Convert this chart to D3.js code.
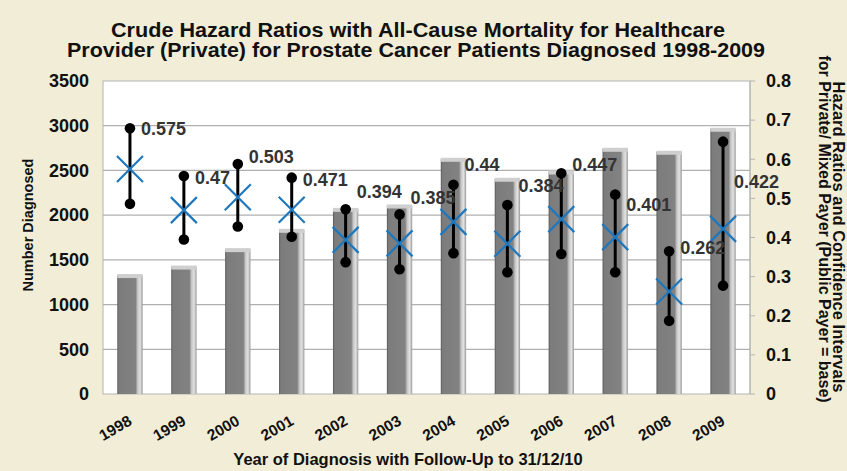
<!DOCTYPE html>
<html>
<head>
<meta charset="utf-8">
<script src="https://cdn.jsdelivr.net/npm/d3@7"></script>
<style>
  body { margin: 0; background: #f2edd6; }
  svg { display: block; }
</style>
</head>
<body>
<div id="chart"></div>
<script>
// -----------------------------------------
// DATA
// -----------------------------------------
var years = ["1998", "1999", "2000", "2001", "2002", "2003", "2004", "2005", "2006", "2007", "2008", "2009"];
var diagnosed = [1330, 1425, 1620, 1836, 2070, 2108, 2630, 2407, 2488, 2742, 2709, 2966];
var hazard = [0.575, 0.47, 0.503, 0.471, 0.394, 0.385, 0.44, 0.384, 0.447, 0.401, 0.262, 0.422];
var ciLow = [0.486, 0.395, 0.428, 0.402, 0.337, 0.319, 0.36, 0.311, 0.358, 0.311, 0.187, 0.277];
var ciHigh = [0.679, 0.557, 0.588, 0.553, 0.472, 0.459, 0.535, 0.483, 0.564, 0.51, 0.365, 0.645];
// where each value label sits, read on the right axis
var labelAt = [0.677, 0.552, 0.606, 0.547, 0.516, 0.501, 0.585, 0.532, 0.585, 0.483, 0.373, 0.542];
var leftTicks = [0, 500, 1000, 1500, 2000, 2500, 3000, 3500];
var rightTicks = [0, 0.1, 0.2, 0.3, 0.4, 0.5, 0.6, 0.7, 0.8];

// -----------------------------------------
// FORMAT
// -----------------------------------------
var W = 847, H = 471;
var pL = 103, pR = 750, pT = 81, pB = 394; // plot area edges
var fontF = "Arial, 'Liberation Sans', sans-serif";
var blue = "#1f78bd";

var svg = d3.select("#chart").append("svg")
  .attr("width", W)
  .attr("height", H);

svg.append("rect").attr("width", W).attr("height", H).attr("fill", "#f2edd6");

var x = d3.scaleBand().domain(years).range([pL, pR]);
var yL = d3.scaleLinear().domain([0, 3500]).range([pB, pT]);
var yR = d3.scaleLinear().domain([0, 0.8]).range([pB, pT]);
var cx = function(i){ return x(years[i]) + x.bandwidth()/2; };

// bar gradient (3D look)
var defs = svg.append("defs");
var g = defs.append("linearGradient").attr("id", "barg").attr("x1", "0%").attr("x2", "100%");
g.append("stop").attr("offset", "0%").attr("stop-color", "#5a5a5a");
g.append("stop").attr("offset", "7%").attr("stop-color", "#7c7c7c");
g.append("stop").attr("offset", "72%").attr("stop-color", "#828282");
g.append("stop").attr("offset", "80%").attr("stop-color", "#c4c4c4");
g.append("stop").attr("offset", "90%").attr("stop-color", "#e2e2e2");
g.append("stop").attr("offset", "100%").attr("stop-color", "#9a9a9a");

// plot area
svg.append("rect")
  .attr("x", pL).attr("y", pT)
  .attr("width", pR - pL).attr("height", pB - pT)
  .attr("fill", "#ffffff")
  .attr("stroke", "#b4b4b4");

// gridlines
svg.selectAll(".grid")
  .data(leftTicks.slice(1, -1))
  .enter().append("line")
  .attr("x1", pL).attr("x2", pR)
  .attr("y1", function(d){ return yL(d); })
  .attr("y2", function(d){ return yL(d); })
  .style("stroke", "#b0b0b0")
  .style("stroke-width", 1.2);

// bars
var bw = x.bandwidth() * 0.47;
svg.selectAll(".bar")
  .data(diagnosed)
  .enter().append("rect")
  .attr("x", function(d, i){ return cx(i) - bw/2; })
  .attr("y", function(d){ return yL(d); })
  .attr("width", bw)
  .attr("height", function(d){ return pB - yL(d); })
  .attr("fill", "url(#barg)");
svg.selectAll(".bartop")
  .data(diagnosed)
  .enter().append("rect")
  .attr("x", function(d, i){ return cx(i) - bw/2; })
  .attr("y", function(d){ return yL(d) - 1; })
  .attr("width", bw)
  .attr("height", 4)
  .attr("fill", "#cfcfcf");

// right axis
svg.append("line")
  .attr("x1", pR).attr("x2", pR)
  .attr("y1", pT).attr("y2", pB)
  .style("stroke", "#b4b4b4");
svg.selectAll(".rtick")
  .data(rightTicks)
  .enter().append("line")
  .attr("x1", pR).attr("x2", pR + 5)
  .attr("y1", function(d){ return yR(d); })
  .attr("y2", function(d){ return yR(d); })
  .style("stroke", "#b4b4b4");

// confidence intervals
svg.selectAll(".ci")
  .data(hazard)
  .enter().append("line")
  .attr("x1", function(d, i){ return cx(i); })
  .attr("x2", function(d, i){ return cx(i); })
  .attr("y1", function(d, i){ return yR(ciLow[i]); })
  .attr("y2", function(d, i){ return yR(ciHigh[i]); })
  .style("stroke", "#000")
  .style("stroke-width", 3);
svg.selectAll(".ciend")
  .data(ciLow.concat(ciHigh))
  .enter().append("circle")
  .attr("cx", function(d, i){ return cx(i % years.length); })
  .attr("cy", function(d){ return yR(d); })
  .attr("r", 5.3)
  .style("fill", "#000");

// hazard ratio crosses
var hs = 13;
svg.selectAll(".hr")
  .data(hazard)
  .enter().append("path")
  .attr("d", function(d, i){
    var px = cx(i), py = yR(d);
    return "M" + (px - hs) + "," + (py - hs) + "L" + (px + hs) + "," + (py + hs) +
           "M" + (px - hs) + "," + (py + hs) + "L" + (px + hs) + "," + (py - hs);
  })
  .style("stroke", blue)
  .style("stroke-width", 2.2)
  .style("fill", "none");

// value labels
svg.selectAll(".lab")
  .data(hazard)
  .enter().append("text")
  .attr("x", function(d, i){ return cx(i) + 11; })
  .attr("y", function(d, i){ return yR(labelAt[i]); })
  .attr("dy", "0.35em")
  .text(function(d){ return d; })
  .style("font-family", fontF)
  .style("font-weight", "bold")
  .style("font-size", "18px")
  .style("fill", "#333");

// left tick labels
svg.selectAll(".ltl")
  .data(leftTicks)
  .enter().append("text")
  .attr("x", 89)
  .attr("y", function(d){ return yL(d); })
  .attr("dy", "0.35em")
  .attr("text-anchor", "end")
  .text(function(d){ return d; })
  .style("font-family", fontF)
  .style("font-weight", "bold")
  .style("font-size", "18px")
  .style("fill", "#111");

// right tick labels
svg.selectAll(".rtl")
  .data(rightTicks)
  .enter().append("text")
  .attr("x", 766)
  .attr("y", function(d){ return yR(d); })
  .attr("dy", "0.35em")
  .text(function(d){ return d; })
  .style("font-family", fontF)
  .style("font-weight", "bold")
  .style("font-size", "18px")
  .style("fill", "#111");

// year labels
svg.selectAll(".yl")
  .data(years)
  .enter().append("text")
  .attr("transform", function(d, i){ return "translate(" + (cx(i) + 3) + ",424) rotate(-30)"; })
  .attr("text-anchor", "end")
  .text(function(d){ return d; })
  .style("font-family", fontF)
  .style("font-weight", "bold")
  .style("font-size", "15.5px")
  .style("fill", "#111");

// -----------------------------------------
// TITLES
// -----------------------------------------
svg.append("text")
  .attr("x", 418).attr("y", 37)
  .attr("text-anchor", "middle")
  .attr("textLength", 614).attr("lengthAdjust", "spacingAndGlyphs")
  .text("Crude Hazard Ratios with All-Cause Mortality for Healthcare")
  .style("font-family", fontF).style("font-weight", "bold").style("font-size", "20px").style("fill", "#111");
svg.append("text")
  .attr("x", 416).attr("y", 56.5)
  .attr("text-anchor", "middle")
  .attr("textLength", 698).attr("lengthAdjust", "spacingAndGlyphs")
  .text("Provider (Private) for Prostate Cancer Patients Diagnosed 1998-2009")
  .style("font-family", fontF).style("font-weight", "bold").style("font-size", "20px").style("fill", "#111");

svg.append("text")
  .attr("x", 408).attr("y", 465)
  .attr("text-anchor", "middle")
  .text("Year of Diagnosis with Follow-Up to 31/12/10")
  .style("font-family", fontF).style("font-weight", "bold").style("font-size", "16.5px").style("fill", "#111");

svg.append("text")
  .attr("transform", "translate(33,225) rotate(-90)")
  .attr("text-anchor", "middle")
  .text("Number Diagnosed")
  .style("font-family", fontF).style("font-weight", "bold").style("font-size", "14.5px").style("fill", "#111");

svg.append("text")
  .attr("transform", "translate(833,237) rotate(90)")
  .attr("text-anchor", "middle")
  .text("Hazard Ratios and Confidence Intervals")
  .style("font-family", fontF).style("font-weight", "bold").style("font-size", "16.5px").style("fill", "#111");
svg.append("text")
  .attr("transform", "translate(819,229) rotate(90)")
  .attr("text-anchor", "middle")
  .text("for Private/ Mixed Payer (Public Payer = base)")
  .style("font-family", fontF).style("font-weight", "bold").style("font-size", "16px").style("fill", "#111");
</script>
</body>
</html>
